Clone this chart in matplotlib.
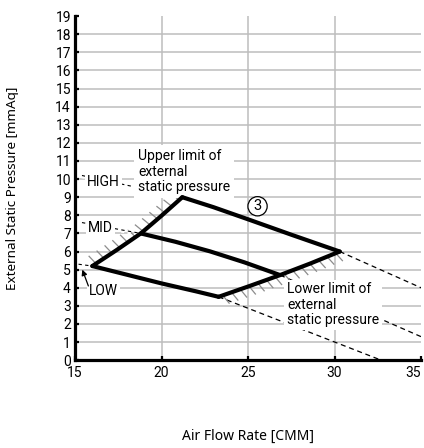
'''Fan performance chart: external static pressure vs air flow rate.'''

import numpy as np
import matplotlib
matplotlib.use('Agg')
import matplotlib.pyplot as plt
import matplotlib.patheffects as pe

# Operating curves per fan step [CMM, mmAq]
high_flow = [21.2, 23.0, 25.0, 27.5, 30.3]
high_press = [9.0, 8.45, 7.78, 6.93, 6.0]
mid_flow = [18.8, 20.8, 22.8, 24.8, 26.85]
mid_press = [7.0, 6.54, 6.01, 5.4, 4.7]
low_flow = [16.0, 18.0, 20.0, 22.0, 23.3]
low_press = [5.2, 4.72, 4.24, 3.8, 3.5]

# Limits of external static pressure
upper_flow = [16.0, 17.4, 18.8, 20.0, 21.2]
upper_press = [5.2, 6.08, 7.0, 7.98, 9.0]
lower_flow = [23.3, 25.1, 26.85, 28.6, 30.3]
lower_press = [3.5, 4.1, 4.7, 5.34, 6.0]

# Curve extensions beyond the lower limit
ext_lines = [
    ([30.3, 35.0], [6.0, 4.0]),
    ([26.85, 35.0], [4.7, 1.3]),
    ([23.3, 32.7], [3.5, 0.0]),
]

# Step labels: (text, label x, label y, leader start, leader end)
steps = [
    ('HIGH', 15.7, 9.83, (15.4, 10.2), (21.2, 9.0)),
    ('MID', 15.75, 7.3, (15.4, 7.6), (18.8, 7.0)),
    ('LOW', 15.8, 3.8, (15.2, 5.3), (16.0, 5.2)),
]

x_ticks = [15, 20, 25, 30, 35]
y_ticks = list(range(0, 20))

plt.rcParams['font.family'] = ['Roboto', 'DejaVu Sans']

fig = plt.figure(figsize=(4.24, 4.48), dpi=100)
ax = fig.add_axes([0.177, 0.196, 0.816, 0.768])
ax.set_xlim(15, 35)
ax.set_ylim(0, 19)
ax.set_xticks(x_ticks)
ax.set_yticks(y_ticks)
ax.tick_params(direction='in', length=3, width=1.6, color='black',
               labelsize=10)
ax.tick_params(axis='x', pad=4)
ax.tick_params(axis='y', pad=3)
ax.get_xticklabels()[-1].set_ha('right')
ax.get_xticklabels()[0].set_ha('center')

ax.grid(True, color='#bdbdbd', linewidth=1.1, zorder=0)
ax.set_axisbelow(True)
xgrid = ax.get_xgridlines()
xgrid[0].set_visible(False)
xgrid[-1].set_visible(False)
ax.get_ygridlines()[-1].set_visible(False)
ax.get_ygridlines()[0].set_visible(False)

for side in ['top', 'right']:
    ax.spines[side].set_visible(False)
for side in ['left', 'bottom']:
    ax.spines[side].set_linewidth(2.3)
    ax.spines[side].set_zorder(6)

# dashed extensions
for xs, ys in ext_lines:
    ax.plot(xs, ys, color='black', linewidth=0.9, dashes=(4, 3), zorder=2)

# hatching along the limit lines
ax.plot(upper_flow, upper_press, color='#8c8c8c', linewidth=1.0, zorder=2,
        path_effects=[pe.TickedStroke(spacing=6.3, angle=100, length=1.15,
                                      foreground='#8c8c8c', linewidth=0.9)])
ax.plot(lower_flow, lower_press, color='#8c8c8c', linewidth=1.0, zorder=2,
        path_effects=[pe.TickedStroke(spacing=6.3, angle=-70, length=1.15,
                                      foreground='#8c8c8c', linewidth=0.9)])

# leaders with white halo
halo = [pe.Stroke(linewidth=4, foreground='white'), pe.Normal()]
for name, tx, ty, p0, p1 in steps:
    ax.plot([p0[0], p1[0]], [p0[1], p1[1]], color='black', linewidth=0.8,
            dashes=(3, 3), zorder=3, path_effects=halo)
    ax.text(tx, ty, name, fontsize=10, ha='left', va='center', zorder=4,
            bbox=dict(boxstyle='square,pad=0.12', fc='white', ec='none'))

ax.annotate('', xy=(15.42, 5.0), xytext=(15.77, 4.1),
            arrowprops=dict(arrowstyle='-|>', color='black', lw=0.9,
                            mutation_scale=8, shrinkA=0, shrinkB=0),
            zorder=4)

ax.text(18.65, 10.42, 'Upper limit of\nexternal\nstatic pressure',
        fontsize=10, ha='left', va='center', linespacing=1.12, zorder=4,
        bbox=dict(boxstyle='square,pad=0.3', fc='white', ec='none'))
ax.text(27.25, 3.06, 'Lower limit of\nexternal\nstatic pressure',
        fontsize=10, ha='left', va='center', linespacing=1.12, zorder=4,
        bbox=dict(boxstyle='square,pad=0.2', fc='white', ec='none'))

# fan step curves and outline
for xs, ys in [(high_flow, high_press), (mid_flow, mid_press),
               (low_flow, low_press), (upper_flow, upper_press),
               (lower_flow, lower_press)]:
    ax.plot(xs, ys, color='black', linewidth=3.0, solid_capstyle='round',
            solid_joinstyle='round', zorder=5)

ax.text(25.55, 8.5, '3', fontsize=10.5, ha='center', va='center', zorder=5,
        bbox=dict(boxstyle='circle,pad=0.18', fc='white', ec='black', lw=0.9))

ax.set_xlabel('Air Flow Rate [CMM]', fontsize=10, family='Noto Sans')
ax.set_ylabel('External Static Pressure [mmAq]', fontsize=9.7, family='Noto Sans')
ax.xaxis.set_label_coords(0.5, -0.221)
ax.xaxis.label.set_va('center')
ax.yaxis.set_label_coords(-0.182, 0.5)
ax.yaxis.label.set_va('center')

fig.savefig('out.png', dpi=100)
